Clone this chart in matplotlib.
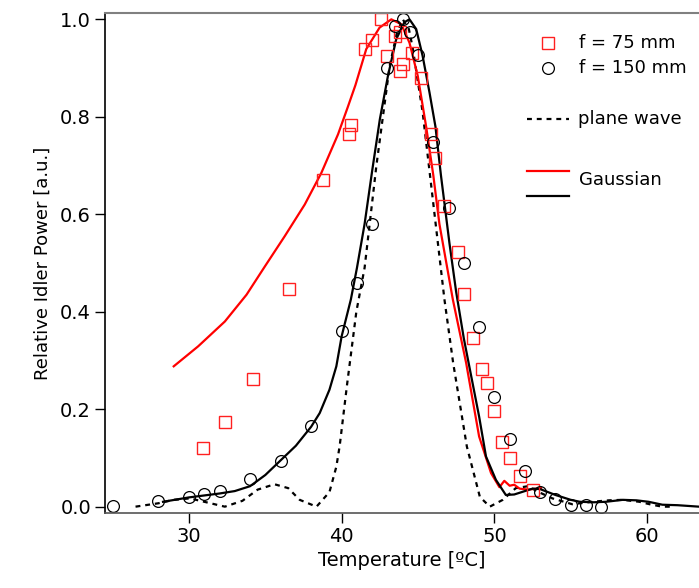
import numpy as np
import matplotlib
matplotlib.use("Agg")
import matplotlib.pyplot as plt
from matplotlib.lines import Line2D

# measured points, f = 75 mm
f75_T = [30.9, 32.35, 34.16, 36.58, 38.8, 40.48, 40.59, 41.5, 41.98, 42.6, 42.99, 43.46,
         43.8, 43.8, 44.0, 44.6, 45.2, 45.86, 46.08, 46.67, 47.6, 47.99, 48.6, 49.2,
         49.5, 50.0, 50.5, 51.0, 51.7, 52.5]
f75_P = [0.12, 0.173, 0.262, 0.447, 0.671, 0.764, 0.783, 0.939, 0.957, 1.0, 0.925, 0.966,
         0.975, 0.894, 0.908, 0.93, 0.88, 0.764, 0.716, 0.617, 0.523, 0.437, 0.346, 0.282,
         0.254, 0.196, 0.133, 0.099, 0.062, 0.034]

# measured points, f = 150 mm
f150_T = [25, 28, 30, 31, 32, 34, 36, 38, 40, 41, 42, 43, 43.5, 44, 44.5, 45, 46, 47,
          48, 49, 50, 51, 52, 53, 54, 55, 56, 57]
f150_P = [0.001, 0.012, 0.019, 0.025, 0.032, 0.056, 0.094, 0.166, 0.36, 0.458, 0.581, 0.90,
          0.987, 1.0, 0.975, 0.926, 0.748, 0.613, 0.501, 0.368, 0.225, 0.138, 0.074, 0.031,
          0.015, 0.003, 0.003, 0.0]

# plane wave theory
pw_T = [26.5, 28, 29, 30.07, 31, 32.35, 33.5, 34.5, 35.6, 36.5, 37.25, 38.35, 39.2, 39.65,
        39.87, 40.35, 40.96, 41.5, 42.27, 43.14, 43.6, 44.0, 44.4, 44.66, 45.0, 45.3, 45.97,
        46.73, 47.3, 48.2, 49.05, 49.7, 50.55, 51.4, 52.2, 52.9, 53.8, 55.1, 56.4, 57.5,
        58.4, 59.5, 60.3, 61.0, 61.5]
pw_P = [0.0, 0.007, 0.014, 0.017, 0.010, 0.0, 0.012, 0.035, 0.046, 0.038, 0.014, 0.0, 0.03,
        0.082, 0.125, 0.25, 0.40, 0.49, 0.699, 0.904, 0.97, 1.0, 0.98, 0.94, 0.87, 0.81, 0.63,
        0.425, 0.295, 0.123, 0.02, 0.0, 0.014, 0.038, 0.042, 0.03, 0.017, 0.005, 0.01, 0.013,
        0.014, 0.01, 0.004, 0.0, 0.0]

# Gaussian theory, f = 75 mm (red)
g75_T = [29.0, 30.6, 32.35, 33.77, 34.97, 36.27, 37.58, 38.67, 39.76, 40.4, 40.9, 41.61,
         42.48, 43.25, 43.9, 44.44, 44.98, 45.53, 46.0, 46.4, 47.28, 48.15, 49.0, 49.78,
         50.33, 50.65, 51.0, 51.3, 51.65, 52.2, 53.05]
g75_P = [0.288, 0.329, 0.38, 0.435, 0.493, 0.555, 0.62, 0.685, 0.764, 0.82, 0.865, 0.939,
         0.983, 1.0, 0.99, 0.952, 0.884, 0.78, 0.68, 0.58, 0.425, 0.295, 0.144, 0.069,
         0.04, 0.053, 0.043, 0.045, 0.037, 0.035, 0.038]

# Gaussian theory, f = 150 mm (black)
g150_T = [28.3, 30, 32, 33, 34, 35, 36, 37, 38, 38.56, 39.2, 39.65, 40, 40.6, 41, 41.5, 42,
          42.5, 43.03, 43.57, 44.1, 44.44, 44.88, 45.3, 45.75, 46.14, 46.5, 47.06, 47.5, 48,
          48.5, 49, 49.45, 50.1, 50.75, 51.3, 51.8, 52.5, 53, 54, 55, 55.6, 56.5, 57.3,
          58.4, 59.3, 60.1, 61, 62, 63.4]
g150_P = [0.010, 0.019, 0.027, 0.032, 0.042, 0.065, 0.095, 0.125, 0.164, 0.192, 0.240, 0.288,
          0.350, 0.425, 0.49, 0.58, 0.69, 0.795, 0.884, 0.959, 0.994, 1.0, 0.98, 0.925,
          0.85, 0.78, 0.68, 0.54, 0.44, 0.345, 0.265, 0.185, 0.103, 0.055, 0.024, 0.025,
          0.03, 0.037, 0.036, 0.024, 0.014, 0.010, 0.009, 0.010, 0.014, 0.013, 0.010,
          0.004, 0.003, 0.0]

plt.rcParams['font.family'] = ['DejaVu Sans']

fig = plt.figure(figsize=(6.99, 5.88), dpi=100)
ax = fig.add_axes([105/699, 1-513/588, 1-105/699, 500/588])

ax.plot(pw_T, pw_P, color='black', lw=1.6, ls=(0, (2.2, 2.2)))
ax.plot(g75_T, g75_P, color='#ff0000', lw=1.6)
ax.plot(g150_T, g150_P, color='black', lw=1.6)
ax.plot(f75_T, f75_P, ls='none', marker='s', ms=9, mfc='none', mec='#ff2020', mew=1.0)
ax.plot(f150_T, f150_P, ls='none', marker='o', ms=8.5, mfc='none', mec='black', mew=0.9)

ax.set_xlim(24.5, 63.4)
ax.set_ylim(-0.013, 1.013)
ax.set_xticks([30, 40, 50, 60])
ax.set_yticks([0.0, 0.2, 0.4, 0.6, 0.8, 1.0])
ax.set_yticklabels(['0.0', '0.2', '0.4', '0.6', '0.8', '1.0'])
ax.tick_params(direction='out', length=7, width=1, labelsize=14, pad=3, colors='black')
ax.spines['right'].set_visible(False)
ax.spines['top'].set_color('#808080')
ax.spines['top'].set_linewidth(1.5)
ax.spines['bottom'].set_color('#555555')
ax.spines['bottom'].set_linewidth(1.2)
ax.spines['left'].set_linewidth(1.2)

ax.set_xlabel('Temperature [ºC]', fontsize=14, labelpad=4)
ax.set_ylabel('Relative Idler Power [a.u.]', fontsize=13, labelpad=6)

# hand-made legend
def fx(px):
    return px / 699

def fy(py):
    return 1 - py / 588

fig.add_artist(Line2D([fx(548)], [fy(43)], marker='s', ms=9, mfc='none', mec='#ff2020',
                      mew=1.0, transform=fig.transFigure))
fig.add_artist(Line2D([fx(548)], [fy(68)], marker='o', ms=8.5, mfc='none', mec='black',
                      mew=0.9, transform=fig.transFigure))
fig.add_artist(Line2D([fx(527), fx(569)], [fy(119), fy(119)], color='black', lw=1.6,
                      ls=(0, (2.2, 2.2)), transform=fig.transFigure))
fig.add_artist(Line2D([fx(527), fx(569)], [fy(171), fy(171)], color='#ff0000', lw=1.6,
                      transform=fig.transFigure))
fig.add_artist(Line2D([fx(527), fx(569)], [fy(196), fy(196)], color='black', lw=1.6,
                      transform=fig.transFigure))
fig.text(fx(579), fy(43), 'f = 75 mm', fontsize=13, va='center', ha='left')
fig.text(fx(579), fy(68), 'f = 150 mm', fontsize=13, va='center', ha='left')
fig.text(fx(578), fy(119), 'plane wave', fontsize=13, va='center', ha='left')
fig.text(fx(579), fy(180), 'Gaussian', fontsize=13, va='center', ha='left')

fig.savefig('out.png', dpi=100)
